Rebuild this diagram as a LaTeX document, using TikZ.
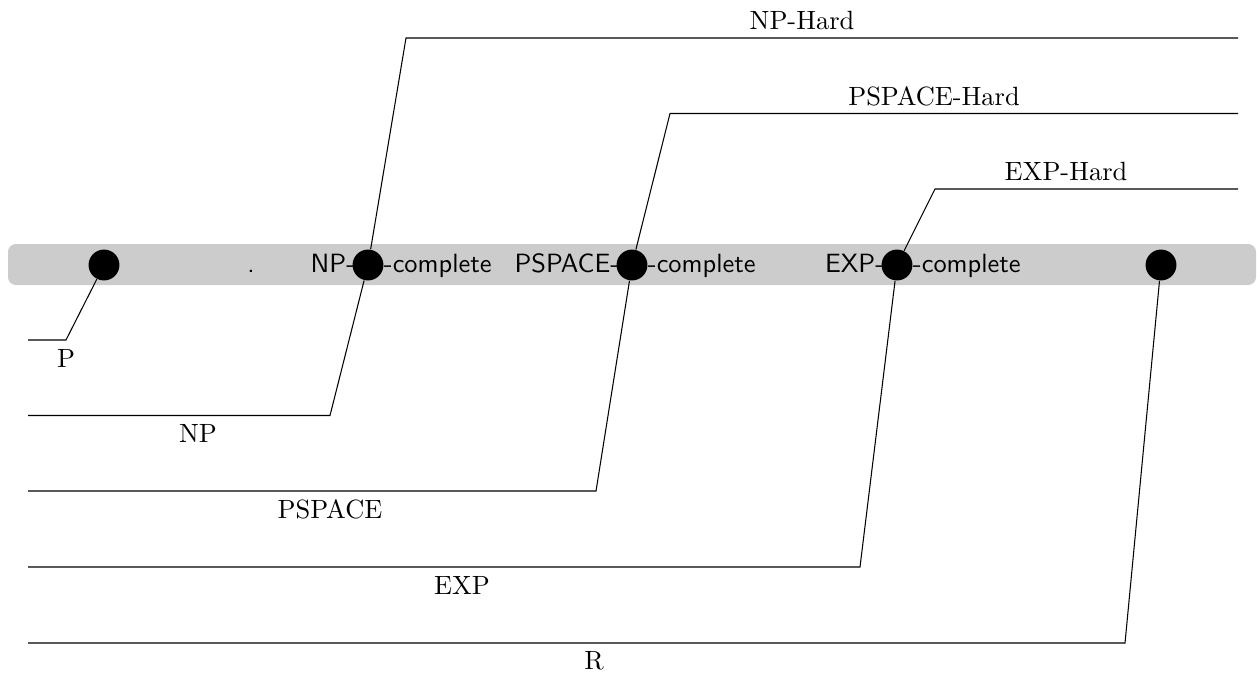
\documentclass[tikz,border=0pt]{standalone}
\begin{document}
\begin{tikzpicture}[x=0.3788pt,y=-0.3788pt,
  dot/.style={circle,fill=black,inner sep=0pt,minimum size=11.7pt},
  bandtxt/.style={font=\sffamily,inner sep=0pt},
  lbl/.style={font=\rmfamily,inner sep=0pt},
  conn/.style={draw=black,line width=0.4pt}]
\useasboundingbox (0,0) rectangle (1257,673);
\fill[black!20,rounded corners=3pt] (8,244) rectangle (1256,285);
% band texts (drawn first so dots cover hyphen ends)
\coordinate (P0) at (104,265);
\coordinate (NP0) at (368,265);
\coordinate (PS0) at (632,265);
\coordinate (EX0) at (897,265);
\coordinate (R0) at (1161,265);
\node[bandtxt,anchor=base] (dotmark) at (251,272) {.};
\node[bandtxt,anchor=base east] (npl) at ([xshift=-4.7pt,yshift=-2.7pt]NP0) {NP-};
\node[bandtxt,anchor=base west] (npr) at ([xshift=5.85pt,yshift=-2.7pt]NP0) {-complete};
\node[bandtxt,anchor=base east] (psl) at ([xshift=-4.7pt,yshift=-2.7pt]PS0) {PSPACE-};
\node[bandtxt,anchor=base west] (psr) at ([xshift=5.85pt,yshift=-2.7pt]PS0) {-complete};
\node[bandtxt,anchor=base east] (exl) at ([xshift=-4.7pt,yshift=-2.7pt]EX0) {EXP-};
\node[bandtxt,anchor=base west] (exr) at ([xshift=5.85pt,yshift=-2.7pt]EX0) {-complete};
% dots
\node[dot] (P) at (P0) {};
\node[dot] (NP) at (NP0) {};
\node[dot] (PS) at (PS0) {};
\node[dot] (EX) at (EX0) {};
\node[dot] (R) at (R0) {};
% corner coordinates
\coordinate (pc) at (66,340);    \coordinate (pe) at (28,340);
\coordinate (npc) at (330,415.5); \coordinate (npe) at (28,415.5);
\coordinate (psc) at (596,491);  \coordinate (pse) at (28,491);
\coordinate (exc) at (860,567);  \coordinate (exe) at (28,567);
\coordinate (rc) at (1125,643);  \coordinate (re) at (28,643);
\coordinate (nphc) at (406,38);  \coordinate (nphe) at (1238,38);
\coordinate (pshc) at (670,113.5); \coordinate (pshe) at (1238,113.5);
\coordinate (exhc) at (935,189); \coordinate (exhe) at (1238,189);
% connectors
\draw[conn] (P) -- (pc) -- (pe);
\draw[conn] (NP) -- (npc) -- (npe);
\draw[conn] (PS) -- (psc) -- (pse);
\draw[conn] (EX) -- (exc) -- (exe);
\draw[conn] (R) -- (rc) -- (re);
\draw[conn] (NP) -- (nphc) -- (nphe);
\draw[conn] (PS) -- (pshc) -- (pshe);
\draw[conn] (EX) -- (exhc) -- (exhe);
% labels
\node[lbl] (lp) at (66,358) {P};
\node[lbl] (lnp) at (198,433.5) {NP};
\node[lbl] (lps) at (330,509) {PSPACE};
\node[lbl] (lex) at (462,585) {EXP};
\node[lbl] (lr) at (594,661) {R};
\node[lbl] (lnph) at (802,20) {NP-Hard};
\node[lbl] (lpsh) at (934,96) {PSPACE-Hard};
\node[lbl] (lexh) at (1066,171) {EXP-Hard};
\end{tikzpicture}
\end{document}
